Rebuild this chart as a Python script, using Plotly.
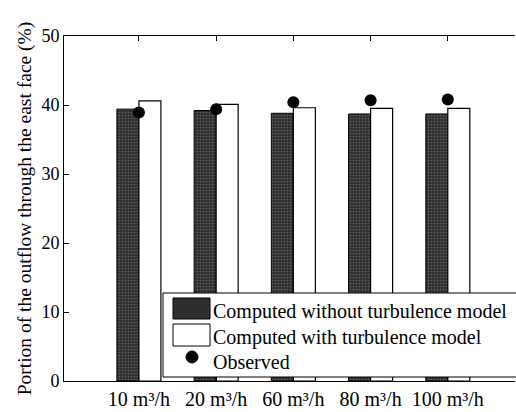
import plotly.graph_objects as go

categories = ["10 m³/h", "20 m³/h", "60 m³/h", "80 m³/h", "100 m³/h"]
without_turb = [39.4, 39.2, 38.8, 38.7, 38.7]
with_turb = [40.6, 40.1, 39.6, 39.5, 39.5]
observed = [38.9, 39.4, 40.4, 40.7, 40.8]
legend_labels = ["Computed without turbulence model", "Computed with turbulence model", "Observed"]
y_ticks = [0, 10, 20, 30, 40, 50]

FONT = "Liberation Serif"
W, H = 516, 412
L, R, T, B = 64, 1, 36, 31

fig = go.Figure()
fig.add_trace(go.Bar(x=categories, y=without_turb, name=legend_labels[0],
                     marker=dict(color="#2e2e2e", line=dict(color="black", width=1),
                                 pattern=dict(shape=".", fgcolor="#9a9a9a", bgcolor="#2e2e2e", size=3, solidity=0.25))))
fig.add_trace(go.Bar(x=categories, y=with_turb, name=legend_labels[1],
                     marker=dict(color="white", line=dict(color="black", width=1.2))))
fig.add_trace(go.Scatter(x=categories, y=observed, name=legend_labels[2], mode="markers",
                         marker=dict(color="black", size=12)))

# manual legend (paper coords)
def px(x):
    return (x - L) / (W - L - R)
def py(y):
    return (H - B - y) / (H - T - B)

shapes = [
    dict(type="rect", xref="paper", yref="paper", x0=px(163), x1=px(517), y0=py(377), y1=py(293),
         line=dict(color="black", width=1), fillcolor="white", layer="above"),
    dict(type="rect", xref="paper", yref="paper", x0=px(173), x1=px(210), y0=py(319), y1=py(298),
         line=dict(color="black", width=1), fillcolor="#2e2e2e", layer="above"),
    dict(type="rect", xref="paper", yref="paper", x0=px(173), x1=px(210), y0=py(346), y1=py(324),
         line=dict(color="black", width=1), fillcolor="white", layer="above"),
    dict(type="circle", xref="paper", yref="paper", x0=px(186), x1=px(198), y0=py(363), y1=py(351),
         line=dict(color="black", width=1), fillcolor="black", layer="above"),
]
annotations = []
for label, yc in zip(legend_labels, [311, 337, 362]):
    annotations.append(dict(text=label, xref="paper", yref="paper", x=px(211), y=py(yc),
                            xanchor="left", yanchor="middle", showarrow=False,
                            font=dict(family=FONT, size=20, color="black")))

fig.update_layout(
    width=W, height=H, margin=dict(l=L, r=R, t=T, b=B),
    paper_bgcolor="white", plot_bgcolor="white",
    barmode="group", bargap=0.43, bargroupgap=0,
    showlegend=False, shapes=shapes, annotations=annotations,
    font=dict(family=FONT, size=18, color="black"),
)
fig.update_xaxes(range=[-0.97, 4.87], showline=True, linecolor="black", linewidth=1, mirror="ticks",
                 ticks="inside", ticklen=5, tickcolor="black", showgrid=False, zeroline=False,
                 tickfont=dict(family=FONT, size=20))
fig.update_yaxes(range=[0, 50], tickvals=y_ticks, showline=True, linecolor="black", linewidth=1,
                 ticks="inside", ticklen=5, tickcolor="black", showgrid=False, zeroline=False,
                 tickfont=dict(family=FONT, size=18),
                 title=dict(text="Portion of the outflow through the east face (%)",
                            font=dict(family=FONT, size=19.5), standoff=4))

fig.write_html("out.html")
